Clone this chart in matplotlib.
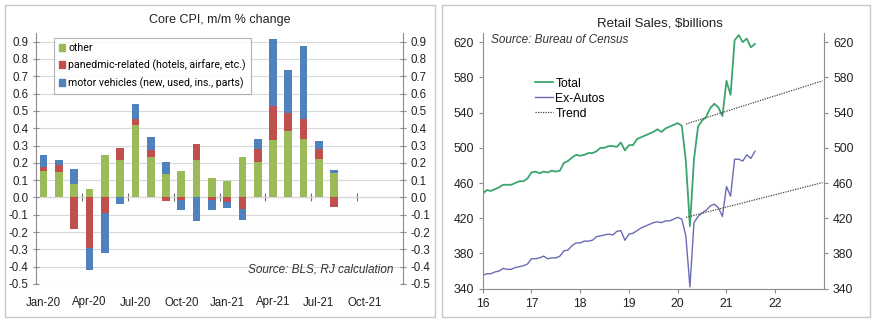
import numpy as np
import matplotlib
matplotlib.use('Agg')
import matplotlib.pyplot as plt
from matplotlib import font_manager
from matplotlib.patches import Patch, Rectangle

plt.rcParams['font.family'] = ['Liberation Sans', 'DejaVu Sans']

# ---- Core CPI components, m/m % change (Jan-20 .. Aug-21)
months = ['Jan-20', 'Feb-20', 'Mar-20', 'Apr-20', 'May-20', 'Jun-20', 'Jul-20', 'Aug-20',
          'Sep-20', 'Oct-20', 'Nov-20', 'Dec-20', 'Jan-21', 'Feb-21', 'Mar-21', 'Apr-21',
          'May-21', 'Jun-21', 'Jul-21', 'Aug-21', 'Sep-21', 'Oct-21', 'Nov-21', 'Dec-21']
other = [0.15, 0.145, 0.075, 0.05, 0.245, 0.215, 0.42, 0.235, 0.135, 0.15, 0.215, 0.115,
         0.095, 0.235, 0.205, 0.33, 0.385, 0.34, 0.22, 0.14]
pandemic = [0.025, 0.04, -0.185, -0.29, -0.09, 0.07, 0.035, 0.04, -0.02, -0.015, 0.095, -0.015,
            -0.025, -0.065, 0.075, 0.2, 0.105, 0.115, 0.06, -0.055]
motor = [0.07, 0.03, 0.09, -0.13, -0.23, -0.04, 0.085, 0.075, 0.07, -0.058, -0.135, -0.055,
         -0.035, -0.065, 0.057, 0.385, 0.245, 0.42, 0.045, 0.02]
cpi_ticks = [round(-0.5 + 0.1 * i, 1) for i in range(15)]

# ---- Retail sales, $billions, monthly Jan-2016 .. Aug-2021
total = [448, 452, 451, 453, 455, 458, 458, 458, 460, 462, 462, 465,
         472, 473, 471, 473, 472, 474, 473, 474, 483, 485, 489, 492,
         491, 492, 494, 494, 496, 500, 500, 502, 502, 501, 506, 497,
         503, 503, 510, 512, 514, 516, 518, 521, 518, 522, 524, 526,
         528, 525, 485, 411, 487, 524, 531, 535, 545, 550, 546, 536,
         576, 560, 622, 628, 620, 624, 614, 618]
ex_autos = [355, 357, 357, 359, 360, 363, 362, 362, 364, 365, 366, 368,
            374, 374, 375, 377, 374, 375, 375, 377, 383, 384, 389, 392,
            392, 394, 394, 395, 399, 400, 401, 402, 401, 405, 406, 395,
            402, 403, 406, 409, 411, 413, 415, 416, 415, 417, 417, 419,
            421, 419, 400, 342, 415, 422, 426, 429, 434, 436, 432, 422,
            456, 445, 487, 487, 485, 492, 488, 496]
trend_years = [2020.17, 2022.97]
trend_total = [527, 576]
trend_ex_autos = [421, 460.5]
year_ticks = [2016, 2017, 2018, 2019, 2020, 2021, 2022]

GREEN = '#9bbb59'
RED = '#c0504d'
BLUE = '#4f81bd'
GRID = '#d9d9d9'
AXIS = '#8c8c8c'

# narrow face for the legend if it is installed
installed = {f.name for f in font_manager.fontManager.ttflist}
if 'Liberation Sans Narrow' in installed:
    legend_prop = {'family': 'Liberation Sans Narrow', 'size': 8.5}
elif 'Roboto' in installed:
    legend_prop = {'family': 'Roboto', 'size': 7.6}
else:
    legend_prop = {'family': 'Liberation Sans', 'size': 7.1}

fig = plt.figure(figsize=(8.77, 3.26), dpi=100)
W, H = 877, 326

# panel frames
for x0, x1 in [(5, 435), (442, 870)]:
    fig.patches.append(Rectangle((x0 / W, 1 - 317 / H), (x1 - x0) / W, (317 - 5) / H,
                                 transform=fig.transFigure, fill=False,
                                 edgecolor='#c8c8c8', linewidth=1.0))

# ================= left: Core CPI =================
ax = fig.add_axes([36 / W, 1 - 284 / H, (403 - 36) / W, (284 - 33) / H])
x = np.arange(len(other))
pos_base = np.zeros(len(x))
neg_base = np.zeros(len(x))
for vals, col in [(other, GREEN), (pandemic, RED), (motor, BLUE)]:
    v = np.array(vals)
    base = np.where(v >= 0, pos_base, neg_base)
    ax.bar(x, v, bottom=base, width=0.5, color=col, zorder=3)
    pos_base = pos_base + np.clip(v, 0, None)
    neg_base = neg_base + np.clip(v, None, 0)

ax.set_xlim(-0.5, len(months) - 0.5)
ax.set_ylim(-0.5, 0.95)
ax.set_yticks(cpi_ticks)
ax.set_yticklabels(['%.1f' % t for t in cpi_ticks])
ax.yaxis.grid(True, color=GRID, linewidth=0.8, zorder=0)
ax.set_axisbelow(True)
ax.tick_params(axis='y', which='both', direction='inout', length=5, color=AXIS,
               labelsize=8.3, labelright=True, right=True, pad=3, labelcolor='#222222')
for s in ['top', 'bottom']:
    ax.spines[s].set_visible(False)
for s in ['left', 'right']:
    ax.spines[s].set_color(AXIS)

# category labels every quarter below the plot
ax.set_xticks(x[::3].tolist() + [21], [months[i] for i in range(0, 22, 3)])
ax.tick_params(axis='x', length=0, labelsize=8.3, pad=9, labelcolor='#222222')

# zero line with quarter boundary marks
zero_frac = (0 - ax.get_ylim()[0]) / (ax.get_ylim()[1] - ax.get_ylim()[0])
zx = ax.secondary_xaxis(zero_frac)
zx.set_xticks(np.arange(2.5, 22, 3))
zx.tick_params(direction='inout', length=6, color='#707070', labelbottom=False,
               labeltop=False)
zx.spines['bottom'].set_color('#707070')
zx.spines['top'].set_color('#707070')

handles = [Patch(color=GREEN), Patch(color=RED), Patch(color=BLUE)]
leg = ax.legend(handles, ['other', 'panedmic-related (hotels, airfare, etc.)',
                          'motor vehicles (new, used, ins., parts)'],
                loc='upper left', bbox_to_anchor=(0.035, 1.0), fancybox=False,
                edgecolor='#a0a0a0', handlelength=0.6, handleheight=0.6,
                handletextpad=0.3, labelspacing=0.62, borderpad=0.45, prop=legend_prop)
leg.get_frame().set_linewidth(0.8)
ax.text(0.975, 0.035, 'Source: BLS, RJ calculation', transform=ax.transAxes,
        ha='right', va='bottom', fontsize=8.5, style='italic', color='#333333')
fig.text(220 / W, 1 - 20 / H, 'Core CPI, m/m % change', ha='center', va='center',
         fontsize=9, color='#222222')

# ================= right: Retail sales =================
ax2 = fig.add_axes([482.7 / W, 1 - 288.7 / H, (824 - 482.7) / W, (288.7 - 33.3) / H])
yrs = 2016 + np.arange(len(total)) / 12
ax2.plot(yrs, total, color='#3aa56e', linewidth=1.3, label='Total')
ax2.plot(yrs, ex_autos, color='#6b6bb5', linewidth=1.0, label='Ex-Autos')
ax2.plot(trend_years, trend_total, color='#444444', linestyle=(0, (1, 1)), linewidth=0.9,
         label='Trend')
ax2.plot(trend_years, trend_ex_autos, color='#444444', linestyle=(0, (1, 1)), linewidth=0.9)

ax2.set_xlim(2016, 2023)
ax2.set_ylim(340, 630)
ax2.set_xticks(year_ticks, [str(y)[2:] for y in year_ticks])
ax2.set_yticks(range(340, 621, 40))
ax2.tick_params(axis='both', direction='out', length=3, color=AXIS, labelsize=8.8,
                labelcolor='#222222')
ax2.tick_params(axis='y', right=True, labelright=True)
ax2.spines['top'].set_visible(False)
for s in ['left', 'right', 'bottom']:
    ax2.spines[s].set_color(AXIS)
ax2.legend(loc='upper left', bbox_to_anchor=(0.12, 0.87), frameon=False, fontsize=8.8,
           handlelength=1.5, handletextpad=0.2, labelspacing=0.25)
ax2.text(0.025, 0.975, 'Source: Bureau of Census', transform=ax2.transAxes,
         ha='left', va='center', fontsize=8.5, style='italic', color='#333333')
fig.text(660 / W, 1 - 24 / H, 'Retail Sales, $billions', ha='center', va='center',
         fontsize=9.5, color='#222222')

fig.savefig('out.png', dpi=100)
